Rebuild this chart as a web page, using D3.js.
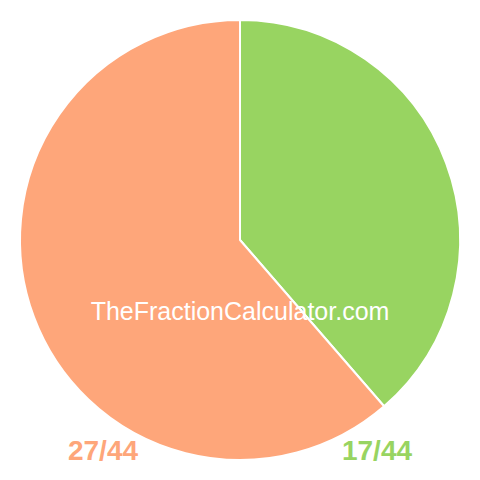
<!DOCTYPE html>
<html><head><meta charset="utf-8">
<script src="https://cdn.jsdelivr.net/npm/d3@7"></script>
<style>body{margin:0;background:#fff}</style>
</head><body>
<svg id="c" width="480" height="480"></svg>
<script>
const labels = ["17/44", "27/44"];
const values = [17, 27];
const colors = ["#98d461", "#fea67a"];

const svg = d3.select("#c");
const cx = 240, cy = 240, r = 220;
const pie = d3.pie().sort(null).value(d => d)(values);
const arc = d3.arc().innerRadius(0).outerRadius(r);
const g = svg.append("g").attr("transform", `translate(${cx},${cy})`);
g.selectAll("path").data(pie).join("path")
  .attr("d", arc)
  .attr("fill", (d, i) => colors[i])
  .attr("stroke", "#fff").attr("stroke-width", 2).attr("stroke-linejoin", "round");

svg.append("text").attr("x", 240).attr("y", 320)
  .attr("text-anchor", "middle")
  .attr("font-family", "Liberation Sans, Arial, sans-serif")
  .attr("font-size", 25).attr("fill", "#fff")
  .text("TheFractionCalculator.com");

const lx = [377, 103];
svg.selectAll("text.lab").data(labels).join("text").attr("class", "lab")
  .attr("x", (d, i) => lx[i]).attr("y", 460)
  .attr("text-anchor", "middle")
  .attr("font-family", "Liberation Sans, Arial, sans-serif")
  .attr("font-weight", "bold").attr("font-size", 28)
  .attr("fill", (d, i) => colors[i])
  .text(d => d);
</script>
</body></html>
